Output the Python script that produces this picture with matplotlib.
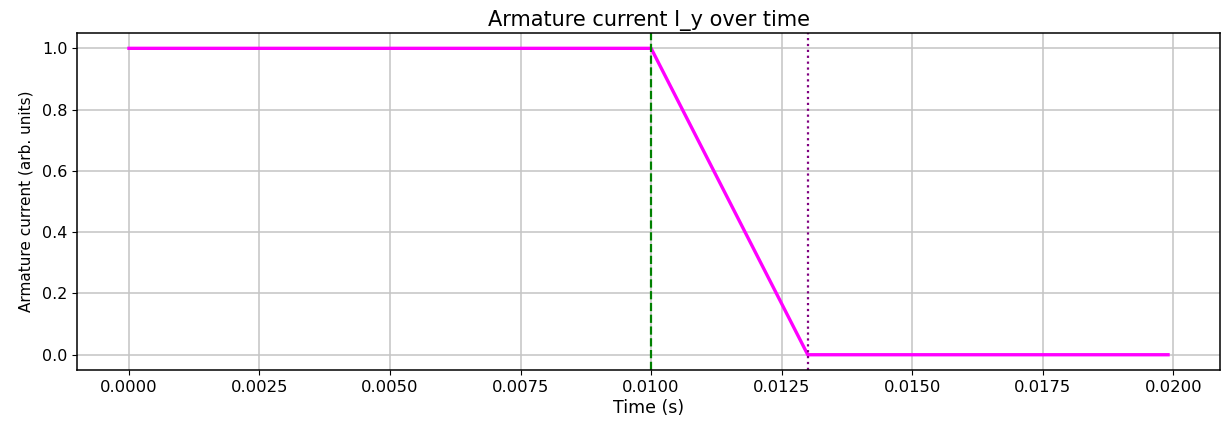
import matplotlib
matplotlib.use("Agg")
import matplotlib.pyplot as plt

# Breakpoints of the armature current waveform
time_s = [0.0, 0.010, 0.013, 0.0199]
current = [1.0, 1.0, 0.0, 0.0]

# Event markers
t_switch = 0.010
t_zero = 0.013

plt.rcParams.update({
    "font.size": 11.5,
    "axes.titlesize": 15,
    "axes.labelsize": 11,
    "xtick.labelsize": 11.8,
    "ytick.labelsize": 11.5,
    "axes.linewidth": 1.1,
})

fig = plt.figure(figsize=(12.3, 4.21), dpi=100)
ax = fig.add_axes([77 / 1230, 0.121, 1143 / 1230, 0.8006])
ax.plot(time_s, current, color="magenta", linewidth=2.4)
ax.axvline(t_switch, color="green", linestyle="--", linewidth=1.6)
ax.axvline(t_zero, color="purple", linestyle=":", linewidth=1.6)

ax.set_title("Armature current I_y over time", pad=5)
ax.set_xlabel("Time (s)", labelpad=3, fontsize=12.5)
ax.set_ylabel("Armature current (arb. units)", labelpad=6)
ax.grid(True, color="#c4c4c4", linewidth=1.1)

fig.savefig("out.png", dpi=100)
